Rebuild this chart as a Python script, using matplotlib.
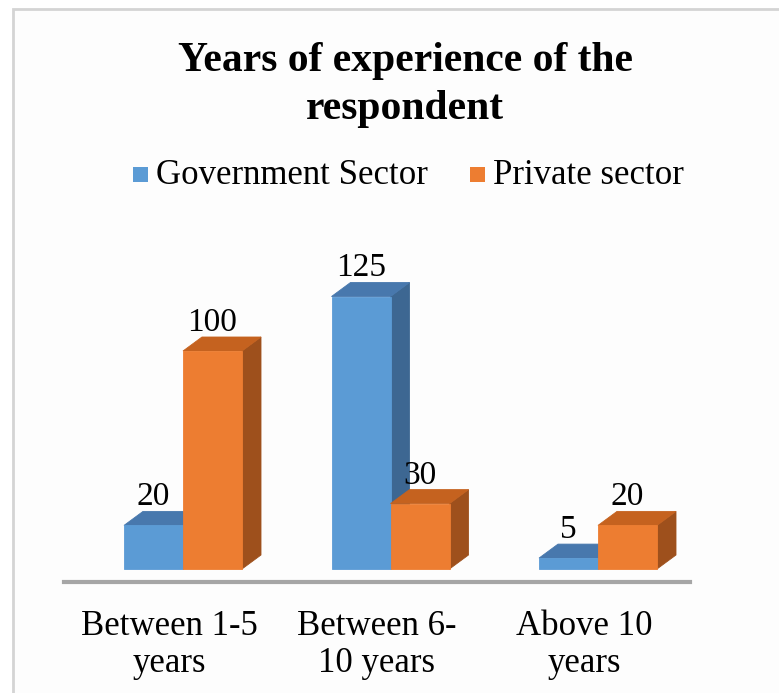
import matplotlib
matplotlib.use("Agg")
import matplotlib.pyplot as plt
from matplotlib.patches import Polygon, Rectangle
from matplotlib.lines import Line2D

categories = ["Between 1-5\nyears", "Between 6-\n10 years", "Above 10\nyears"]
series_names = ["Government Sector", "Private sector"]
government = [20, 125, 5]
private = [100, 30, 20]

W, H, DPI = 779, 693, 100
fig = plt.figure(figsize=(W / DPI, H / DPI), dpi=DPI)
fig.patch.set_facecolor("white")
plt.rcParams["font.family"] = ["Liberation Serif", "DejaVu Serif"]

# chart frame (light grey border running off the right / bottom)
frame = Rectangle((13 / W, -0.05), 1.2, 1 - 9 / H + 0.05,
                  transform=fig.transFigure, facecolor="#fdfdfd",
                  edgecolor="#d4d4d4", linewidth=2.0, zorder=-5)
fig.patches.append(frame)

# plot area: value 0 at y=569px, 2.18 px per unit; group spacing 207.5 px
ymax = 150
ax_h_px = ymax * 2.18
ax_bottom = (H - 569) / H
x_lo, x_hi = -0.6, 2.6
grp_px = 207.5
ax_left = (183 - 0.6 * grp_px) / W
ax_w = (x_hi - x_lo) * grp_px / W
ax = fig.add_axes([ax_left, ax_bottom, ax_w, ax_h_px / H], zorder=2)
ax.set_xlim(x_lo, x_hi)
ax.set_ylim(0, ymax)
ax.axis("off")
ax.patch.set_alpha(0)

# depth of the 3-D prisms, expressed in data units
depth_dx = 19 / grp_px
depth_dy = 14 / 2.18
bar_w = 59 / grp_px

palettes = [
    dict(front="#5B9BD5", top="#4878AD", side="#3D6792"),
    dict(front="#ED7D31", top="#C5621F", side="#9E501C"),
]


def prism(x0, h, pal, z):
    x1 = x0 + bar_w
    side = [(x1, 0), (x1 + depth_dx, depth_dy), (x1 + depth_dx, h + depth_dy), (x1, h)]
    top = [(x0, h), (x0 + depth_dx, h + depth_dy), (x1 + depth_dx, h + depth_dy), (x1, h)]
    front = [(x0, 0), (x0, h), (x1, h), (x1, 0)]
    for pts, col in ((side, pal["side"]), (top, pal["top"]), (front, pal["front"])):
        ax.add_patch(Polygon(pts, closed=True, facecolor=col, edgecolor=col,
                             linewidth=0.6, zorder=z, clip_on=False))


# floor front edge
ax.add_line(Line2D([(64 - 183) / grp_px, (690 - 183) / grp_px], [-6, -6],
                   color="#a6a6a6", linewidth=3, clip_on=False, zorder=1))

for i in range(len(categories)):
    for s, vals in enumerate((government, private)):
        x0 = i - bar_w + s * bar_w
        prism(x0, vals[i], palettes[s], 2 + i * 2 + s)
        ax.annotate(str(vals[i]), (x0 + bar_w / 2, vals[i]),
                    xytext=(0, 14 + 6), textcoords="offset pixels",
                    ha="center", va="baseline", fontsize=24, color="black",
                    zorder=20, annotation_clip=False)
    ax.annotate(categories[i], (i, 0), xytext=(-14, -41), textcoords="offset pixels",
                ha="center", va="top", fontsize=25, linespacing=1.15,
                annotation_clip=False)

# title
fig.text(0.5 * (178 + 632) / W, 1 - 85 / H, "Years of experience of the\nrespondent",
         ha="center", va="center", fontsize=30, fontweight="bold", linespacing=1.32)

# legend
for s, name in enumerate(series_names):
    sx = [133, 470][s]
    fig.patches.append(Rectangle((sx / W, 1 - 182 / H), 15 / W, 15 / H,
                                 transform=fig.transFigure,
                                 facecolor=palettes[s]["front"], edgecolor="none"))
    fig.text((sx + 23) / W, 1 - 175 / H, name, ha="left", va="center", fontsize=25)

fig.savefig("out.png", dpi=DPI)
